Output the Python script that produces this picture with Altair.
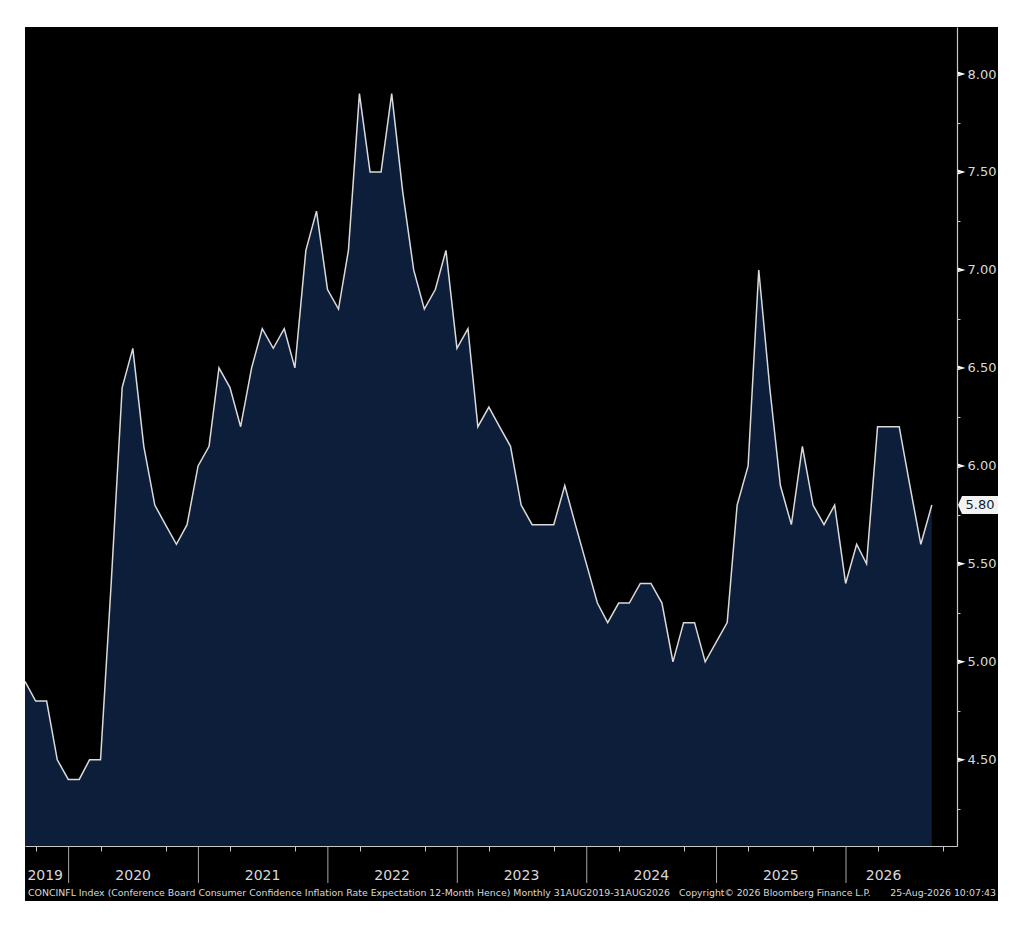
import altair as alt
import pandas as pd

# CONCINFL monthly, month-end, Aug 2019 .. Aug 2026
start = "2019-08-31"
values = [
    4.9, 4.8, 4.8, 4.5, 4.4, 4.4, 4.5, 4.5,
    5.4, 6.4, 6.6, 6.1, 5.8, 5.7, 5.6, 5.7,
    6.0, 6.1, 6.5, 6.4, 6.2, 6.5, 6.7, 6.6, 6.7, 6.5,
    7.1, 7.3, 6.9, 6.8, 7.1, 7.9, 7.5, 7.5, 7.9, 7.4,
    7.0, 6.8, 6.9, 7.1, 6.6, 6.7, 6.2, 6.3, 6.2, 6.1,
    5.8, 5.7, 5.7, 5.7, 5.9, 5.7, 5.5, 5.3, 5.2, 5.3,
    5.3, 5.4, 5.4, 5.3, 5.0, 5.2, 5.2, 5.0, 5.1, 5.2,
    5.8, 6.0, 7.0, 6.4, 5.9, 5.7, 6.1, 5.8, 5.7, 5.8,
    5.4, 5.6, 5.5, 6.2, 6.2, 6.2, 5.9, 5.6, 5.8,
]
years = [2019, 2020, 2021, 2022, 2023, 2024, 2025, 2026]
year_label_dates = ["2019-10-27", "2020-07-01", "2021-07-01", "2022-07-01",
                    "2023-07-01", "2024-07-01", "2025-07-01", "2026-04-17"]
year_starts = ["2020-01-01", "2021-01-01", "2022-01-01", "2023-01-01",
               "2024-01-01", "2025-01-01", "2026-01-01"]
quarter_months = [1, 4, 7, 10]
y_ticks = [4.25, 4.5, 4.75, 5.0, 5.25, 5.5, 5.75, 6.0, 6.25, 6.5,
           6.75, 7.0, 7.25, 7.5, 7.75, 8.0]
y_major = [4.5, 5.0, 5.5, 6.0, 6.5, 7.0, 7.5, 8.0]

footer_left = ("CONCINFL Index (Conference Board Consumer Confidence Inflation Rate "
               "Expectation 12-Month Hence) Monthly 31AUG2019-31AUG2026")
footer_mid = "Copyright\u00a9 2026 Bloomberg Finance L.P."
footer_right = "25-Aug-2026 10:07:43"

dates = pd.date_range(start, periods=len(values), freq="ME")
df = pd.DataFrame({"date": dates.strftime("%Y-%m-%d"), "v": values})
last = df.tail(1).assign(lbl=lambda d: d["v"].map("{:.2f}".format))

# quarterly tick marks on the time axis
q_ticks = [alt.DateTime(year=y, month=m, date=1)
           for y in years for m in quarter_months
           if (y, m) > (2019, 8) and (y, m) < (2026, 11)]

W, H = 932, 819
FONT = "DejaVu Sans"
NAVY = "#0c1e3a"
GREY = "#c8c8c8"
TXT = "#d8d8d8"

xscale = alt.Scale(domain=[alt.DateTime(year=2019, month=8, date=31),
                           alt.DateTime(year=2026, month=11, date=10)])
yscale = alt.Scale(domain=[4.06, 8.24], nice=False, zero=False)

x_enc = alt.X("date:T", scale=xscale, axis=alt.Axis(
    title=None, labels=False, grid=False, zindex=1, values=q_ticks,
    tickSize=5, tickWidth=1, tickColor=GREY, domainColor=GREY,
    domainWidth=1.2))
y_enc = alt.Y("v:Q", scale=yscale, axis=alt.Axis(
    title=None, orient="right", grid=False, zindex=1, values=y_ticks,
    labelExpr="datum.value % 0.5 == 0 ? format(datum.value, '.2f') : ''",
    tickSize=3, tickColor=GREY, labelPadding=7, labelFont=FONT,
    labelFontSize=13, labelColor=TXT, domainColor=GREY, domainWidth=1.2))

panel = alt.Chart(pd.DataFrame({"a": [0]})).mark_rect(color="black").encode(
    x=alt.value(0), x2=alt.value(973), y=alt.value(0), y2=alt.value(874))

base = alt.Chart(df)
area = base.mark_area(color=NAVY, opacity=1, clip=True).encode(x=x_enc, y=y_enc)
line = base.mark_line(color="#dadada", strokeWidth=1.5).encode(x="date:T", y="v:Q")

tri = alt.Chart(pd.DataFrame({"v": y_major})).mark_point(
    shape="M-1,-0.6L1,0L-1,0.6Z", filled=True, size=64, color="white",
    opacity=1).encode(y="v:Q", x=alt.value(W + 4.5))

callout = alt.Chart(last).mark_point(
    shape="M-1,0L-0.8,-0.45L1,-0.45L1,0.45L-0.8,0.45Z", filled=True,
    size=1600, color="#f2f2f2", opacity=1).encode(y="v:Q", x=alt.value(W + 21))
callout_txt = alt.Chart(last).mark_text(
    font=FONT, fontSize=13, color=NAVY, align="center", baseline="middle",
    dx=2).encode(y="v:Q", x=alt.value(W + 21), text="lbl:N")

yr = pd.DataFrame({"date": year_label_dates, "year": [str(y) for y in years]})
year_txt = alt.Chart(yr).mark_text(
    font=FONT, fontSize=14, color=TXT, baseline="middle").encode(
    x="date:T", y=alt.value(H + 30), text="year:N")

sep = alt.Chart(pd.DataFrame({"date": year_starts})).mark_rule(
    color="#a8a8a8", strokeWidth=1).encode(
    x="date:T", y=alt.value(H), y2=alt.value(H + 37))

foot_l = alt.Chart(pd.DataFrame({"t": [footer_left]})).mark_text(
    font=FONT, fontSize=9.4, color=TXT, align="left", baseline="middle"
).encode(x=alt.value(3), y=alt.value(H + 47), text="t:N")
foot_m = alt.Chart(pd.DataFrame({"t": [footer_mid]})).mark_text(
    font=FONT, fontSize=9.3, color=TXT, align="left", baseline="middle"
).encode(x=alt.value(654), y=alt.value(H + 47), text="t:N")
foot_r = alt.Chart(pd.DataFrame({"t": [footer_right]})).mark_text(
    font=FONT, fontSize=9.4, color=TXT, align="right", baseline="middle"
).encode(x=alt.value(971), y=alt.value(H + 47), text="t:N")

chart = alt.layer(
    panel, area, line, sep, tri, callout, callout_txt, year_txt,
    foot_l, foot_m, foot_r,
).properties(
    width=W, height=H, background="white",
    padding={"left": 14, "top": 19, "right": 10, "bottom": 10},
).configure_view(stroke=None)

chart.save("out.html", embed_options={"renderer": "svg", "actions": False})
